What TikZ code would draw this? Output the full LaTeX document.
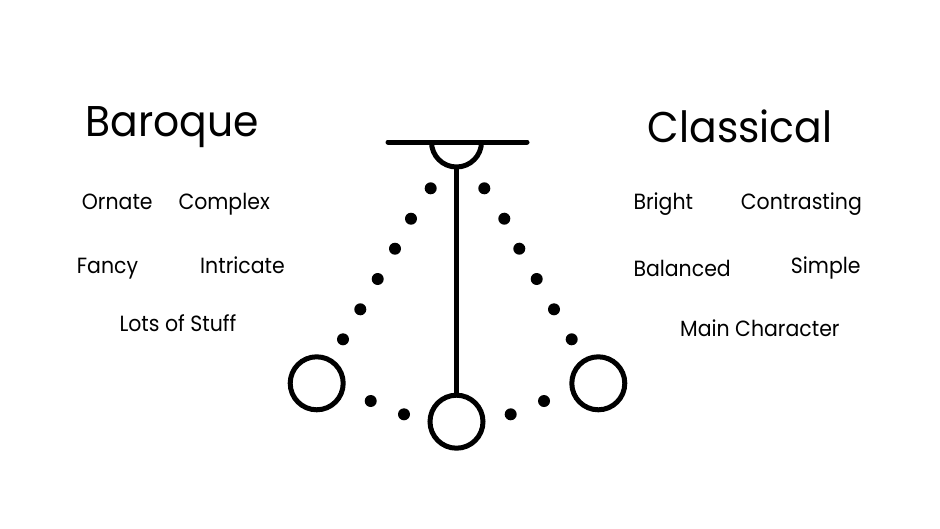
\documentclass[tikz,border=0pt]{standalone}
\usepackage{fontspec}
\setmainfont{Poppins}
\newfontfamily\wordfont[FakeStretch=0.93]{Poppins}
\newfontfamily\headfont[FakeStretch=0.95]{Poppins}
\usetikzlibrary{positioning}

\tikzset{
  word/.style={anchor=base west, inner sep=0pt, font=\wordfont\fontsize{22}{26}\selectfont},
  heading/.style={anchor=base, inner sep=0pt, font=\headfont\fontsize{43}{50}\selectfont},
  bob/.style={circle, draw, line width=5pt, minimum size=53pt, inner sep=0pt},
  dot/.style={circle, fill, inner sep=0pt, minimum size=12pt},
}

\begin{document}
\begin{tikzpicture}[x=1pt,y=-1pt]
    \useasboundingbox[fill=white] (0,0) rectangle (940,528);
    \def\pivx{456.5}
    \def\pivy{142}
    \def\cup{25}

    % frame and pivot
    \draw[line width=5pt, line cap=round] (388,\pivy) -- (527,\pivy);
    \draw[line width=5pt] (\pivx-\cup,\pivy) arc[start angle=180, end angle=0, radius=\cup];
    \coordinate (pivot) at (\pivx,\pivy+\cup);

    % bobs
    \node[bob] (bobL) at (316.7,383.3) {};
    \node[bob] (bobM) at (\pivx,421.7) {};
    \node[bob] (bobR) at (598.3,383.3) {};
    \draw[line width=5pt] (pivot) -- (bobM.north);

    % swing paths
    \foreach \x/\y [count=\i] in {430.7/188.3, 411/218.7, 395/248.7, 377.7/279, 360.3/309.3, 343/339.3, 370.7/401, 404/414.3}
        \node[dot] (dotL\i) at (\x,\y) {};
    \foreach \x/\y [count=\i] in {484.3/188.3, 504.3/218.7, 519.3/248.7, 536.7/279, 554/309.3, 571.7/339.3, 544/401, 510.7/414.3}
        \node[dot] (dotR\i) at (\x,\y) {};

    % Baroque
    \node[heading] (baroque) at (172.5,136.7) {Baroque};
    \node[word] (ornate) at (81.7,209.3) {Ornate};
    \node[word] (complex) at (178.3,209.3) {Complex};
    \node[word] (fancy) at (76.7,273.3) {Fancy};
    \node[word] (intricate) at (200,273.3) {Intricate};
    \node[word] (stuff) at (119.3,331.7) {Lots of Stuff};

    % Classical
    \node[heading] (classical) at (740,142) {Classical};
    \node[word] (bright) at (633.3,209.3) {Bright};
    \node[word] (contrasting) at (740.7,209.3) {Contrasting};
    \node[word] (balanced) at (633.3,276.7) {Balanced};
    \node[word] (simple) at (790.7,273.3) {Simple};
    \node[word] (maincharacter) at (680,336.7) {Main Character};
\end{tikzpicture}
\end{document}
